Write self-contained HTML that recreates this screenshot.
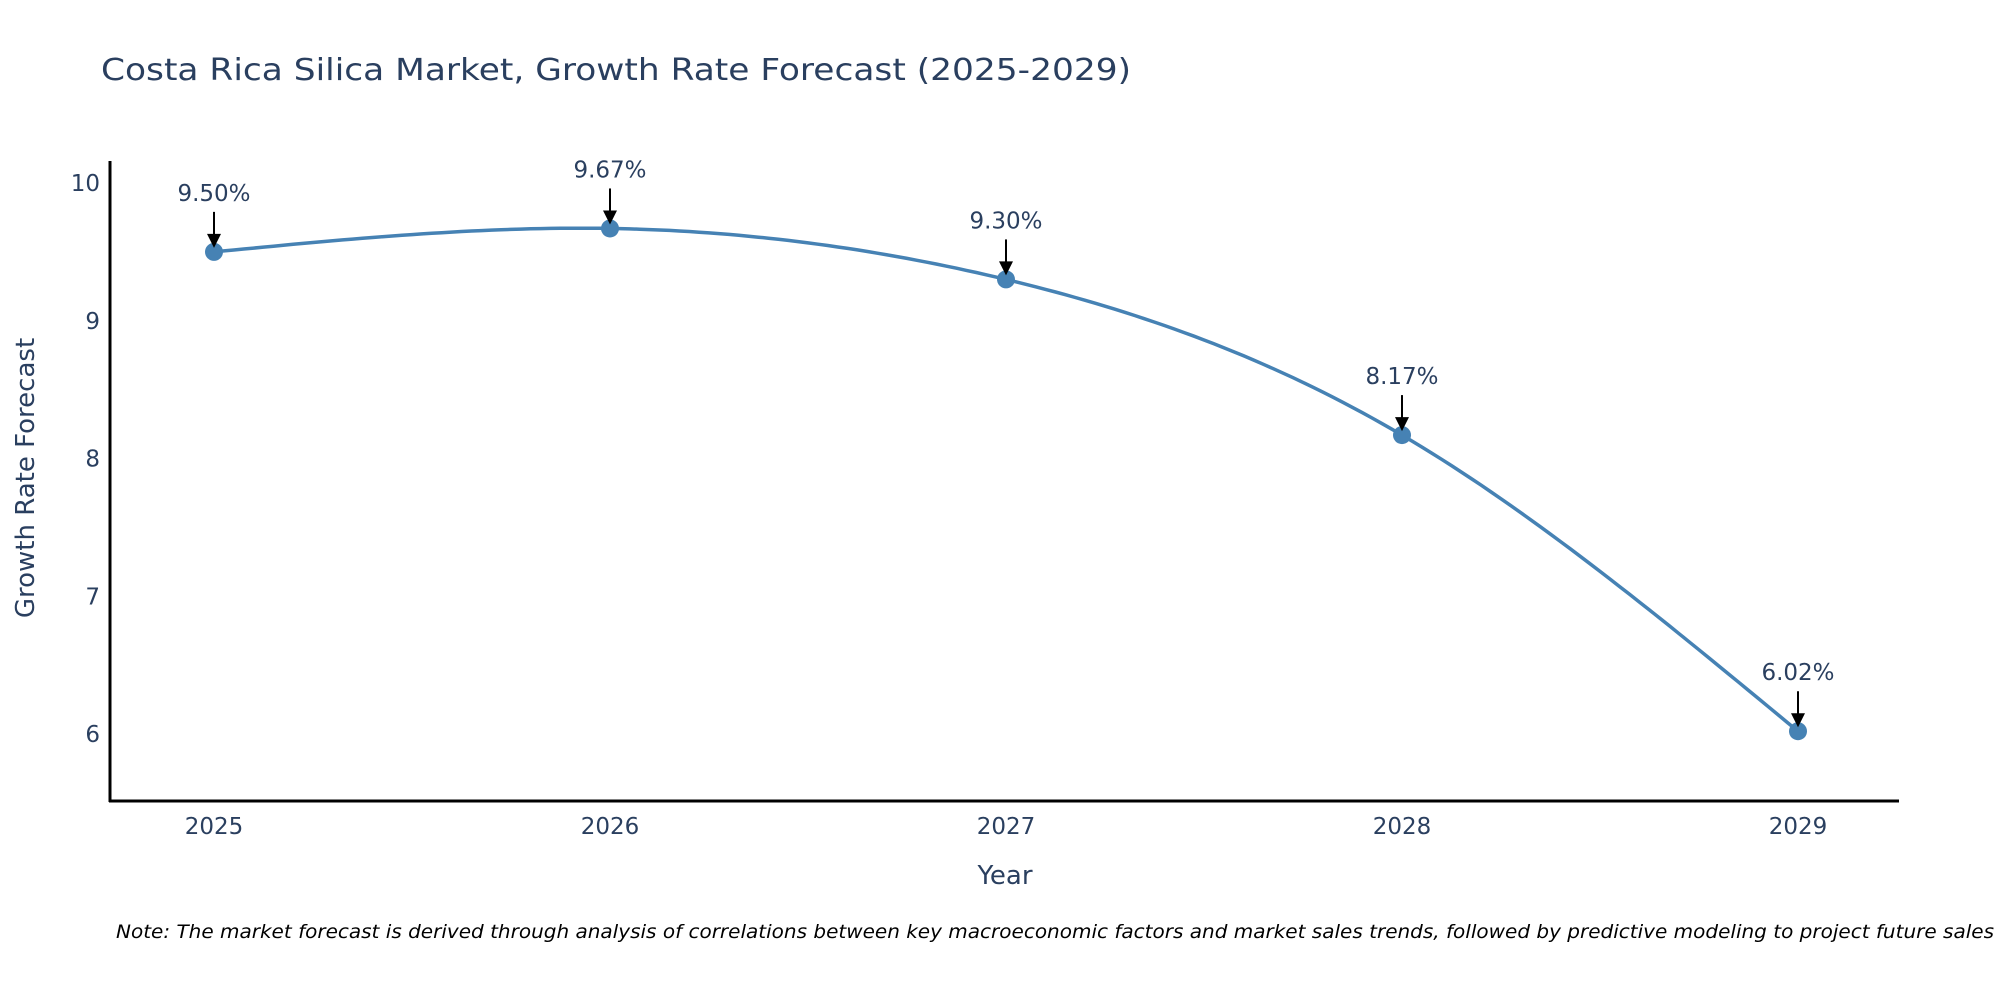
<!DOCTYPE html>
<html><head><meta charset="utf-8"><style>
body{margin:0;background:#fff;}
svg{display:block;font-family:"DejaVu Sans","Liberation Sans",sans-serif;}
</style></head><body>
<svg id="chart" width="2000" height="1000" viewBox="0 0 2000 1000">
<text x="101" y="80" font-size="30" fill="#2a3f5f" textLength="1030" lengthAdjust="spacingAndGlyphs">Costa Rica Silica Market, Growth Rate Forecast (2025-2029)</text>
<g id="axes"></g>
<g id="series"></g>
<text x="1005" y="884" font-size="26" fill="#2a3f5f" text-anchor="middle">Year</text>
<text x="0" y="0" font-size="26" fill="#2a3f5f" text-anchor="middle" transform="translate(34,478) rotate(-90)">Growth Rate Forecast</text>
<text x="116" y="938" font-size="19" font-style="italic" fill="#000" textLength="1878" lengthAdjust="spacingAndGlyphs">Note: The market forecast is derived through analysis of correlations between key macroeconomic factors and market sales trends, followed by predictive modeling to project future sales</text>
</svg>
<script>
const years = ["2025","2026","2027","2028","2029"];
const growth = [9.50, 9.67, 9.30, 8.17, 6.02];
const yTicks = [6,7,8,9,10];
const labels = ["9.50%","9.67%","9.30%","8.17%","6.02%"];

const NS="http://www.w3.org/2000/svg";
function xs(i){return 214+i*396;}
function ys(v){return 183+(10-v)*137.75;}
function mk(tag,attrs,parent){const e=document.createElementNS(NS,tag);for(const k in attrs)e.setAttribute(k,attrs[k]);parent.appendChild(e);return e;}
const axes=document.getElementById('axes'), ser=document.getElementById('series');

let e=mk('line',{x1:110,y1:161,x2:110,y2:802,stroke:'#000','stroke-width':3},axes);


e=mk('line',{x1:109,y1:801,x2:1899,y2:801,stroke:'#000','stroke-width':3},axes);



yTicks.forEach(t=>{
  const tx=mk('text',{x:100,y:ys(t)+8,'font-size':23,fill:'#2a3f5f','text-anchor':'end'},axes);
  tx.textContent=t;
  
  
});
years.forEach((y,i)=>{
  const tx=mk('text',{x:xs(i),y:834,'font-size':23,fill:'#2a3f5f','text-anchor':'middle'},axes);
  tx.textContent=y;
  
  
});

// natural cubic spline in screen coords
const X=growth.map((v,i)=>xs(i)), Y=growth.map(v=>ys(v));
const n=X.length;
const h=[];for(let i=0;i<n-1;i++)h.push(X[i+1]-X[i]);
const a=new Array(n).fill(0),b=new Array(n).fill(0),c=new Array(n).fill(0),r=new Array(n).fill(0);
b[0]=1;b[n-1]=1;
for(let i=1;i<n-1;i++){a[i]=h[i-1];b[i]=2*(h[i-1]+h[i]);c[i]=h[i];r[i]=6*((Y[i+1]-Y[i])/h[i]-(Y[i]-Y[i-1])/h[i-1]);}
for(let i=1;i<n;i++){const m=a[i]/b[i-1];b[i]-=m*c[i-1];r[i]-=m*r[i-1];}
const M=new Array(n).fill(0);M[n-1]=r[n-1]/b[n-1];
for(let i=n-2;i>=0;i--)M[i]=(r[i]-c[i]*M[i+1])/b[i];
let d='M'+X[0]+','+Y[0];
for(let i=0;i<n-1;i++){
  for(let k=1;k<=40;k++){
    const x=X[i]+h[i]*k/40;
    const A=(X[i+1]-x)/h[i],B=(x-X[i])/h[i];
    const y=A*Y[i]+B*Y[i+1]+((A*A*A-A)*M[i]+(B*B*B-B)*M[i+1])*h[i]*h[i]/6;
    d+=' L'+x.toFixed(1)+','+y.toFixed(1);
  }
}
e=mk('path',{d:d,fill:'none',stroke:'#4682B4','stroke-width':3.5},ser);



X.forEach((px,i)=>{
  const py=Y[i];
  const cc=mk('circle',{cx:px,cy:py,r:9,fill:'#4682B4'},ser);
  
  
  const l=mk('line',{x1:px,y1:py-40,x2:px,y2:py-16,stroke:'#000','stroke-width':2},ser);
  
  
  const hd=mk('polygon',{points:(px-7)+','+(py-18)+' '+(px+7)+','+(py-18)+' '+px+','+(py-4),fill:'#000'},ser);
  
  
  const t=mk('text',{x:px,y:py-51,'font-size':23,fill:'#2a3f5f','text-anchor':'middle'},ser);
  t.textContent=labels[i];
  
  
});
</script>
</body></html>
